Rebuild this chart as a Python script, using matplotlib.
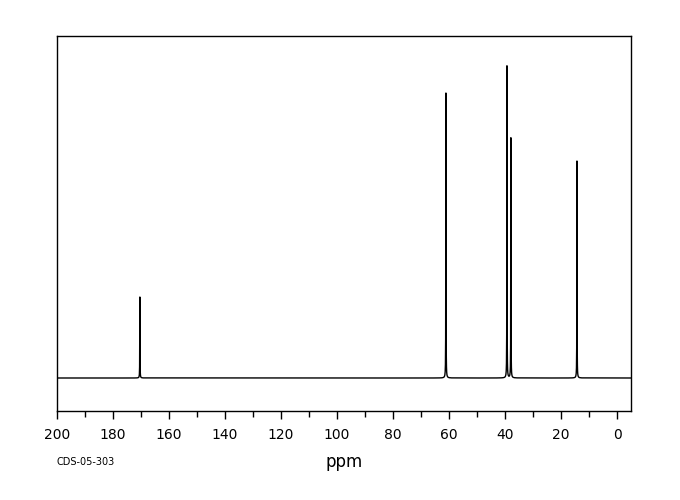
import numpy as np
import matplotlib
matplotlib.use("Agg")
import matplotlib.pyplot as plt
from matplotlib.ticker import MultipleLocator

# Peak list (ppm, relative intensity)
peak_ppm = [170.4, 61.1, 39.3, 37.9, 14.3]
peak_height = [81, 285, 312, 240, 217]
linewidth_ppm = 0.04

x = np.arange(-5, 200.001, 0.01)
y = np.zeros_like(x)
for p, h in zip(peak_ppm, peak_height):
    y += h * linewidth_ppm**2 / (linewidth_ppm**2 + (x - p)**2)

fig = plt.figure(figsize=(6.8, 5.0), dpi=100)
ax = fig.add_axes([57/680, 89/500, (631-57)/680, (411-36)/500])
ax.plot(x, y, color="black", lw=1.0)
ax.set_xlim(200, -5)
ax.set_ylim(-33, 342)
ax.xaxis.set_minor_locator(MultipleLocator(10))
ax.set_xticks([200, 180, 160, 140, 120, 100, 80, 60, 40, 20, 0])
ax.tick_params(axis="x", which="major", direction="out", length=6, width=1, labelsize=10, pad=6)
ax.tick_params(axis="x", which="minor", direction="out", length=4, width=1)
ax.set_yticks([])
for s in ax.spines.values():
    s.set_linewidth(1.0)
ax.set_xlabel("ppm", fontsize=12, labelpad=8)
fig.text(57/680, 1 - 462/500, "CDS-05-303", fontsize=7, va="center", ha="left")
fig.savefig("out.png", dpi=100)
